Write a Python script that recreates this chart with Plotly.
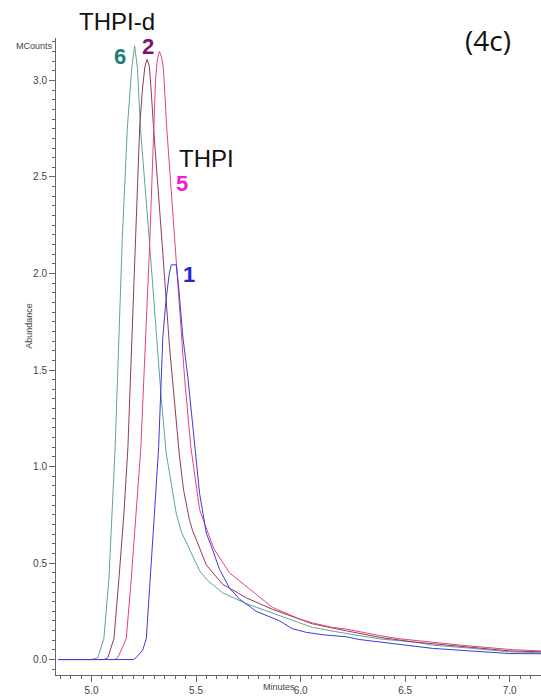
import plotly.graph_objects as go

# ---- data (minutes, MCounts) ----
t6 = [4.84, 4.95, 5.00, 5.03, 5.059, 5.083, 5.097, 5.113, 5.147, 5.171, 5.192, 5.206, 5.22, 5.234, 5.278, 5.333, 5.357, 5.405, 5.43, 5.483, 5.517, 5.555, 5.61, 5.627, 5.74, 5.90, 6.0, 6.057, 6.219, 6.378, 6.55, 6.63, 6.8, 7.0, 7.15]
v6 = [0.0, 0.0, 0.0, 0.01, 0.108, 0.417, 0.758, 1.10, 2.18, 2.75, 3.06, 3.18, 3.06, 2.75, 2.15, 1.36, 1.07, 0.758, 0.66, 0.535, 0.46, 0.41, 0.36, 0.346, 0.29, 0.226, 0.185, 0.166, 0.135, 0.107, 0.09, 0.075, 0.06, 0.04, 0.035]

t2 = [4.84, 5.06, 5.078, 5.107, 5.131, 5.155, 5.174, 5.21, 5.23, 5.243, 5.255, 5.266, 5.277, 5.285, 5.297, 5.338, 5.373, 5.42, 5.44, 5.469, 5.483, 5.549, 5.58, 5.627, 5.66, 5.74, 5.866, 6.057, 6.219, 6.378, 6.55, 6.8, 7.0, 7.15]
v2 = [0.0, 0.0, 0.01, 0.108, 0.417, 0.758, 1.10, 2.18, 2.75, 2.95, 3.07, 3.11, 3.07, 2.95, 2.75, 2.15, 1.62, 1.06, 0.88, 0.72, 0.67, 0.49, 0.45, 0.39, 0.37, 0.32, 0.26, 0.185, 0.149, 0.115, 0.09, 0.065, 0.045, 0.04]

t5 = [4.84, 5.11, 5.126, 5.166, 5.19, 5.214, 5.236, 5.278, 5.297, 5.306, 5.315, 5.325, 5.335, 5.344, 5.36, 5.40, 5.43, 5.445, 5.475, 5.517, 5.54, 5.585, 5.66, 5.74, 5.866, 5.995, 6.057, 6.153, 6.219, 6.378, 6.47, 6.79, 7.015, 7.15]
v5 = [0.0, 0.0, 0.01, 0.108, 0.417, 0.758, 1.10, 2.15, 2.75, 3.0, 3.11, 3.15, 3.12, 3.06, 2.75, 2.15, 1.67, 1.46, 1.10, 0.777, 0.706, 0.575, 0.449, 0.38, 0.27, 0.21, 0.19, 0.166, 0.158, 0.124, 0.108, 0.072, 0.051, 0.045]

t1 = [4.84, 5.20, 5.214, 5.245, 5.262, 5.282, 5.301, 5.321, 5.341, 5.357, 5.372, 5.381, 5.405, 5.415, 5.437, 5.461, 5.493, 5.517, 5.533, 5.549, 5.573, 5.612, 5.66, 5.708, 5.788, 5.90, 5.96, 6.027, 6.11, 6.219, 6.28, 6.345, 6.63, 7.0, 7.15]
v1 = [0.0, 0.0, 0.01, 0.05, 0.108, 0.417, 0.758, 1.10, 1.67, 1.87, 2.0, 2.045, 2.045, 1.95, 1.67, 1.46, 1.10, 0.86, 0.758, 0.655, 0.587, 0.468, 0.37, 0.313, 0.25, 0.2, 0.16, 0.141, 0.128, 0.118, 0.104, 0.095, 0.058, 0.031, 0.03]

series = [
    ("6", t6, v6, "#63a394"),
    ("2", t2, v2, "#8e3b5e"),
    ("5", t5, v5, "#e8417f"),
    ("1", t1, v1, "#3a3ae4"),
]

xticks = [5.0, 5.5, 6.0, 6.5, 7.0]
yticks = [0.0, 0.5, 1.0, 1.5, 2.0, 2.5, 3.0]

W, H = 541, 696
ML, MR, MT, MB = 56, 0, 38, 16


def px(x, y):
    return dict(x=(x - ML) / (W - ML - MR), y=(H - MB - y) / (H - MT - MB), xref="paper", yref="paper")


fig = go.Figure()
for name, t, v, c in series:
    fig.add_trace(go.Scatter(x=t, y=v, mode="lines", name=name,
                             line=dict(color=c, width=1), showlegend=False))

axis_font = dict(family="Liberation Sans, Arial", size=10, color="#444")
fig.update_layout(
    width=W, height=H,
    margin=dict(l=ML, r=MR, t=MT, b=MB),
    paper_bgcolor="white", plot_bgcolor="white",
    xaxis=dict(range=[4.83, 7.15], tickvals=xticks, ticktext=[f"{x:.1f}" for x in xticks],
               showgrid=False, zeroline=False, showline=True, linecolor="#666", linewidth=1,
               ticks="outside", ticklen=6, tickcolor="#666", tickfont=axis_font,
               minor=dict(dtick=0.05, ticks="outside", ticklen=3, tickcolor="#666", showgrid=False)),
    yaxis=dict(range=[-0.08, 3.22], tickvals=yticks, ticktext=[f"{y:.1f}" for y in yticks],
               showgrid=False, zeroline=False, showline=True, linecolor="#666", linewidth=1,
               ticks="outside", ticklen=6, tickcolor="#666", tickfont=axis_font,
               minor=dict(dtick=0.05, ticks="outside", ticklen=3, tickcolor="#666", showgrid=False)),
)

ann = []
ann.append(dict(text="THPI-d", font=dict(family="Liberation Sans, Arial", size=24, color="#111"),
                xanchor="center", yanchor="middle", **px(117, 21)))
ann.append(dict(text="THPI", font=dict(family="Liberation Sans, Arial", size=24, color="#111"),
                xanchor="center", yanchor="middle", **px(206, 159)))
ann.append(dict(text="(4c)", font=dict(family="Open Sans", size=28, color="#111"),
                xanchor="center", yanchor="middle", **px(488, 40)))
ann.append(dict(text="<b>6</b>", font=dict(family="Liberation Sans, Arial", size=22, color="#1a7d78"),
                xanchor="center", yanchor="middle", **px(120, 57)))
ann.append(dict(text="<b>2</b>", font=dict(family="Liberation Sans, Arial", size=22, color="#7a1470"),
                xanchor="center", yanchor="middle", **px(148, 47)))
ann.append(dict(text="<b>5</b>", font=dict(family="Liberation Sans, Arial", size=22, color="#f020d0"),
                xanchor="center", yanchor="middle", **px(182, 185)))
ann.append(dict(text="<b>1</b>", font=dict(family="Liberation Sans, Arial", size=22, color="#2424d6"),
                xanchor="center", yanchor="middle", **px(189, 276)))
ann.append(dict(text="MCounts", font=dict(family="Liberation Sans, Arial", size=9, color="#444"),
                xanchor="right", yanchor="middle", **px(55, 46)))
ann.append(dict(text="Abundance", textangle=-90, font=dict(family="Liberation Sans, Arial", size=9, color="#444"),
                xanchor="center", yanchor="middle", **px(29, 328)))
ann.append(dict(text="Minutes", font=dict(family="Liberation Sans, Arial", size=9, color="#444"),
                xanchor="center", yanchor="middle", **px(279, 692)))
for a in ann:
    a["showarrow"] = False
fig.update_layout(annotations=ann)

fig.write_html("out.html")
